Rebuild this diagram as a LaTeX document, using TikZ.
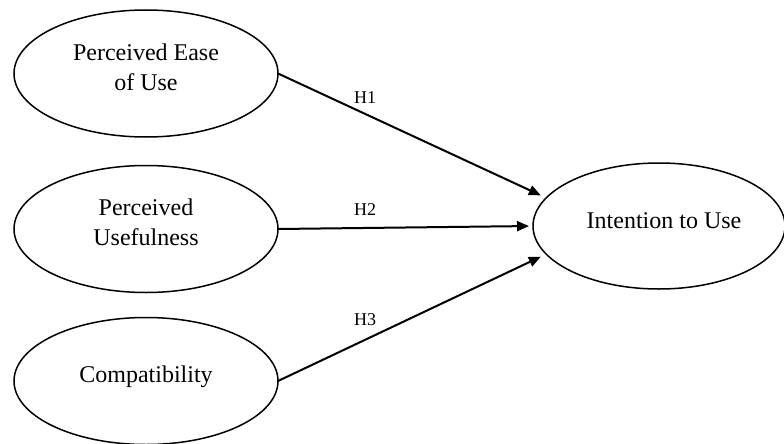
\documentclass[tikz,border=0pt]{standalone}
\usepackage{fontspec}
\setmainfont{Liberation Serif}
\usetikzlibrary{shapes.geometric,arrows.meta}
\begin{document}
\begin{tikzpicture}[x=1pt,y=-1pt,
  construct/.style={draw,ellipse,line width=1.5pt,inner sep=0pt,outer sep=0pt},
  label/.style={font=\fontsize{24}{30}\selectfont,align=center,anchor=base,inner sep=0pt},
  hyp/.style={font=\fontsize{18}{22}\selectfont,anchor=base,inner sep=0pt},
  link/.style={line width=2pt,-{Triangle[length=12pt,width=10pt]}}]
\useasboundingbox (0,0) rectangle (784,444);
\node[construct,minimum width=264pt,minimum height=127pt] (e1) at (146,73.5) {};
\node[construct,minimum width=264pt,minimum height=127pt] (e2) at (146,229) {};
\node[construct,minimum width=264pt,minimum height=127pt] (e3) at (146,381) {};
\node[construct,minimum width=252pt,minimum height=126pt] (out) at (659,226) {};
\node[label] (t1) at (146,90) {Perceived Ease\\of Use};
\node[label] (t2) at (146,245) {Perceived\\Usefulness};
\node[label] (t3) at (146,382) {Compatibility};
\node[label] (t4) at (664,228) {Intention to Use};
\draw[link,shorten >=6pt] (e1.east) -- (out.166);
\draw[link,shorten >=4pt] (e2.east) -- (out.180);
\draw[link,shorten >=6pt] (e3.east) -- (out.194);
\node[hyp] (h1) at (365,103) {H1};
\node[hyp] (h2) at (365,215) {H2};
\node[hyp] (h3) at (365,325) {H3};
\end{tikzpicture}
\end{document}
